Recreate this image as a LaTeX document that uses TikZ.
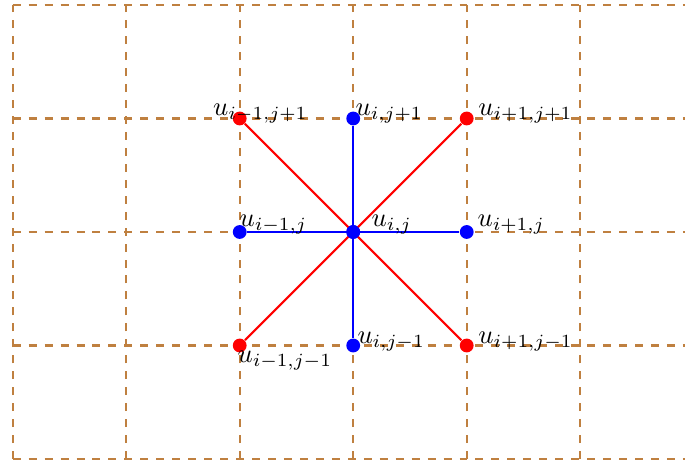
\documentclass[tikz,border=0pt]{standalone}
\usepackage{amsmath,amssymb}
\usepackage{xcolor}
\usepackage{tikz}
\usetikzlibrary{positioning, arrows.meta}
\definecolor{gLine}{rgb}{0.75,0.5,0.25}
\tikzset{
  gridline/.style={draw=gLine, thick, dashed},
  pt/.style={circle, inner sep=0pt, minimum size=5.2pt},
  bpt/.style={pt, fill=blue},
  rpt/.style={pt, fill=red},
  lbl/.style={anchor=base west, inner sep=0pt},
}
\begin{document}
\begin{tikzpicture}[x=1.5cm, y=1.5cm]
  \useasboundingbox (-0.112,-0.029) rectangle (5.923,4.044);
  \clip (-0.112,-0.029) rectangle (5.923,4.044);
  \draw[gridline, xstep=1.5cm, ystep=1.5cm] (0,0) grid (6,4);
  % stencil points
  \node[bpt] (c) at (3,2) {};
  \node[bpt] (n) at (3,3) {};
  \node[bpt] (s) at (3,1) {};
  \node[bpt] (w) at (2,2) {};
  \node[bpt] (e) at (4,2) {};
  \node[rpt] (nw) at (2,3) {};
  \node[rpt] (ne) at (4,3) {};
  \node[rpt] (sw) at (2,1) {};
  \node[rpt] (se) at (4,1) {};
  \draw[red, thick] (c.center) -- (nw) (c.center) -- (ne) (c.center) -- (sw) (c.center) -- (se);
  \draw[blue, thick] (c.center) -- (n) (c.center) -- (s) (c.center) -- (w) (c.center) -- (e);
  \node[bpt] at (c) {};
  % labels
  \node[lbl] (lnw) at (1.762,3.028) {$u_{i-1,j+1}$};
  \node[lbl] (ln) at (3.016,3.028) {$u_{i,j+1}$};
  \node[lbl] (lne) at (4.099,3.028) {$u_{i+1,j+1}$};
  \node[lbl] (lw) at (1.994,2.048) {$u_{i-1,j}$};
  \node[lbl] (lc) at (3.157,2.048) {$u_{i,j}$};
  \node[lbl] (le) at (4.091,2.048) {$u_{i+1,j}$};
  \node[lbl] (lsw) at (1.976,0.852) {$u_{i-1,j-1}$};
  \node[lbl] (ls) at (3.033,1.019) {$u_{i,j-1}$};
  \node[lbl] (lse) at (4.099,1.019) {$u_{i+1,j-1}$};
\end{tikzpicture}
\end{document}
